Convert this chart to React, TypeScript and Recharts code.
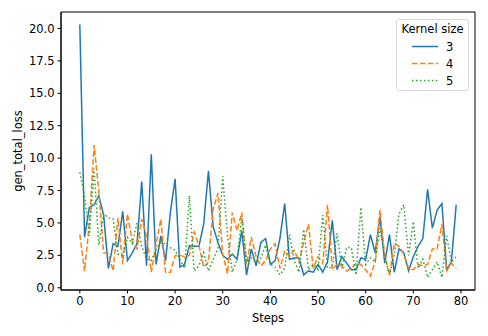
import { LineChart, Line, XAxis, YAxis, ReferenceArea } from 'recharts';

const kernelSizes = ['3', '4', '5'];

const lossK3 = [
    20.3, 3.9, 6.2, 6.4, 7.1, 5.6, 1.5, 3.4, 3.2, 5.9,
    2.1, 2.7, 3.4, 8.2, 1.7, 10.3, 1.8, 4.0, 2.1, 5.8,
    8.4, 1.6, 1.8, 3.25, 3.2, 3.2, 4.9, 9.0, 4.7, 3.5,
    2.5, 2.2, 2.6, 2.2, 4.4, 1.0, 3.0, 1.7, 3.5, 3.8,
    1.8, 2.1, 3.8, 6.5, 2.2, 2.3, 2.3, 1.0, 1.3, 1.2,
    1.8, 1.2, 2.0, 5.2, 1.4, 2.4, 1.9, 1.4, 1.4, 2.3,
    2.2, 4.1, 2.7, 5.5, 1.9, 4.1, 1.2, 3.0, 2.7, 1.3,
    2.4, 3.2, 3.8, 7.6, 4.6, 6.0, 6.5, 1.4, 2.0, 6.4,
];

const lossK4 = [
    4.1, 1.3, 5.0, 11.0, 7.4, 2.7, 2.6, 1.3, 5.4, 1.8,
    5.7, 3.6, 3.0, 5.3, 4.0, 1.2, 3.3, 5.3, 1.2, 1.2,
    2.5, 2.5, 2.4, 2.5, 4.3, 3.3, 1.6, 2.0, 6.1, 7.3,
    2.6, 1.1, 5.8, 4.4, 5.8, 1.8, 3.9, 2.4, 1.7, 2.1,
    3.0, 3.4, 1.5, 2.8, 2.4, 2.9, 2.0, 3.5, 4.9, 1.5,
    2.4, 1.9, 6.4, 1.4, 1.8, 1.7, 1.3, 1.5, 1.9, 1.8,
    1.4, 0.9, 2.0, 6.0, 2.5, 1.0, 3.4, 3.2, 2.6, 1.5,
    1.4, 1.8, 1.7, 1.8, 3.0, 3.0, 4.9, 1.3, 1.9, 1.5,
];

const lossK5 = [
    8.9, 7.1, 4.0, 9.2, 3.3, 5.7, 5.4, 5.3, 2.6, 2.5,
    3.9, 3.4, 5.0, 3.2, 2.2, 2.1, 3.0, 3.5, 3.4, 3.1,
    2.9, 2.2, 1.5, 7.1, 1.3, 1.7, 2.7, 1.3, 2.2, 3.0,
    8.6, 4.0, 1.2, 2.2, 5.4, 2.0, 2.3, 2.0, 2.3, 3.3,
    1.8, 1.6, 1.0, 1.5, 4.1, 2.1, 1.2, 4.5, 1.4, 1.8,
    1.4, 5.6, 1.5, 1.6, 4.2, 1.5, 3.1, 3.1, 1.0, 6.2,
    1.8, 2.3, 2.0, 4.6, 2.4, 1.0, 2.5, 5.7, 6.4, 2.5,
    5.1, 1.5, 2.2, 0.8, 1.4, 2.0, 0.8, 4.0, 2.0, 2.4,
];

const xTicks = [0, 10, 20, 30, 40, 50, 60, 70, 80];
const yTicks = [0, 2.5, 5, 7.5, 10, 12.5, 15, 17.5, 20];

const chartData = lossK3.map((v, i) => ({
    step: i,
    k3: v,
    k4: lossK4[i],
    k5: lossK5[i],
}));

const seriesStyle = [
    { key: 'k3', color: '#1f77b4', dash: undefined as string | undefined },
    { key: 'k4', color: '#ff7f0e', dash: '5.55 2.4' },
    { key: 'k5', color: '#2ca02c', dash: '1.5 2.475' },
];

const font = '"DejaVu Sans", sans-serif';
const tickStyle = { fontSize: 11.5, fill: '#000', fontFamily: font };

function KernelLegend() {
    return (
        <div
            style={{
                position: 'absolute',
                left: 396,
                top: 19,
                width: 73,
                height: 72,
                boxSizing: 'border-box',
                border: '1px solid #d9d9d9',
                borderRadius: 3,
                background: 'rgba(255,255,255,0.8)',
                fontFamily: font,
                fontSize: 11.5,
                color: '#000',
            }}
        >
            <div style={{ textAlign: 'center', marginTop: 1, height: 17, lineHeight: '17px' }}>Kernel size</div>
            {seriesStyle.map((s, i) => (
                <div key={s.key} style={{ height: 17, display: 'flex', alignItems: 'center' }}>
                    <svg width={43} height={17}>
                        <line x1={15} x2={41} y1={8.5} y2={8.5} stroke={s.color} strokeWidth={1.5} strokeDasharray={s.dash} />
                    </svg>
                    <span style={{ marginLeft: 6 }}>{kernelSizes[i]}</span>
                </div>
            ))}
        </div>
    );
}

export default function App() {
    return (
        <div style={{ position: 'absolute', left: 0, top: 0, width: 488, height: 336, background: '#fff' }}>
            <LineChart width={488} height={336} data={chartData} margin={{ top: 12, right: 13, left: 0, bottom: 0 }}>
                <XAxis
                    dataKey="step"
                    type="number"
                    domain={[-3.95, 82.95]}
                    ticks={xTicks}
                    allowDataOverflow
                    height={46}
                    tick={tickStyle}
                    tickSize={3.5}
                    tickMargin={3}
                    stroke="#000"
                    label={{ value: 'Steps', position: 'insideBottom', offset: 14, style: { ...tickStyle } }}
                />
                <YAxis
                    type="number"
                    domain={[-0.17, 21.27]}
                    ticks={yTicks}
                    allowDataOverflow
                    width={61}
                    tick={tickStyle}
                    tickSize={3.5}
                    tickMargin={3}
                    stroke="#000"
                    tickFormatter={(v: number) => v.toFixed(1)}
                    label={{ value: 'gen_total_loss', angle: -90, position: 'insideLeft', offset: 18, style: { ...tickStyle, textAnchor: 'middle' } }}
                />
                <ReferenceArea x1={-3.95} x2={82.95} y1={-0.17} y2={21.27} fill="none" stroke="#000" strokeWidth={1} />
                {seriesStyle.map((s, i) => (
                    <Line
                        key={s.key}
                        name={kernelSizes[i]}
                        dataKey={s.key}
                        type="linear"
                        stroke={s.color}
                        strokeWidth={1.5}
                        strokeDasharray={s.dash}
                        dot={false}
                        activeDot={false}
                        isAnimationActive={false}
                    />
                ))}
            </LineChart>
            <KernelLegend />
        </div>
    );
}
